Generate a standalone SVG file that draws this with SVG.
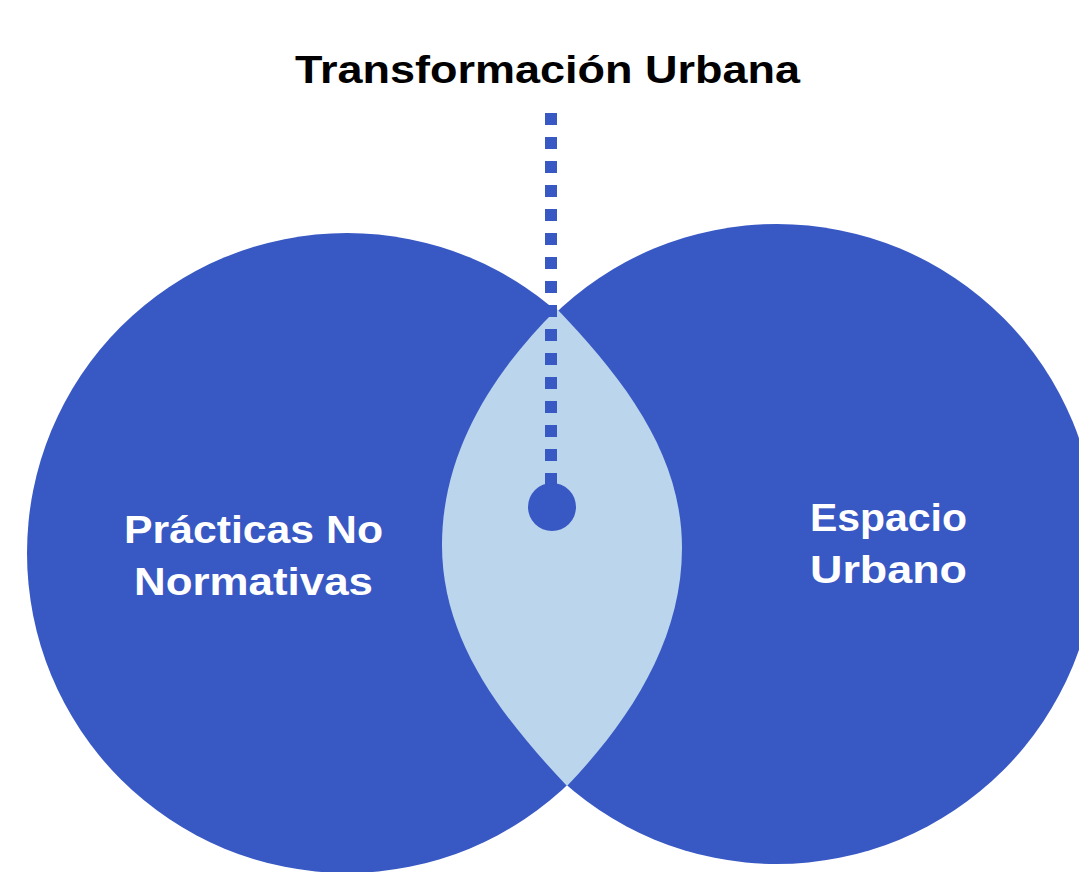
<svg xmlns="http://www.w3.org/2000/svg" width="1079" height="872" viewBox="0 0 1079 872">
<style>
.c{fill:#3858C4}
.lens{fill:#BBD5EC}
.t{font-family:"Liberation Sans",Arial,sans-serif;font-weight:bold}
.w{fill:#FFFFFF;font-size:38px}
.k{fill:#000000;font-size:38px}
.dot{stroke:#3858C4;stroke-width:12;stroke-dasharray:12 12;fill:none}
</style>
<rect width="1079" height="872" fill="#FFFFFF"/>
<g id="practicas">
<circle class="c" cx="347" cy="553" r="320"/>
</g>
<g id="espacio">
<circle class="c" cx="777" cy="544" r="320"/>
</g>
<g id="interseccion">
<path class="lens" d="M557 309 C495 370 442 450 442 545 C442 640 500 715 567 786 C630 720 682 640 682 548 C682 455 625 380 557 309 Z"/>
</g>
<g id="connectors">
<line class="dot" x1="551" y1="113" x2="551" y2="488"/>
<circle class="c" cx="552" cy="507" r="24"/>
</g>
<g id="title">
<text class="t k" x="295" y="83" textLength="505" lengthAdjust="spacingAndGlyphs">Transformación Urbana</text>
</g>
<g id="label-practicas">
<text class="t w" x="124" y="543" textLength="259" lengthAdjust="spacingAndGlyphs">Prácticas No</text>
<text class="t w" x="134" y="595" textLength="239" lengthAdjust="spacingAndGlyphs">Normativas</text>
</g>
<g id="label-espacio">
<text class="t w" x="810" y="531" textLength="157" lengthAdjust="spacingAndGlyphs">Espacio</text>
<text class="t w" x="810" y="583" textLength="157" lengthAdjust="spacingAndGlyphs">Urbano</text>
</g>
</svg>
